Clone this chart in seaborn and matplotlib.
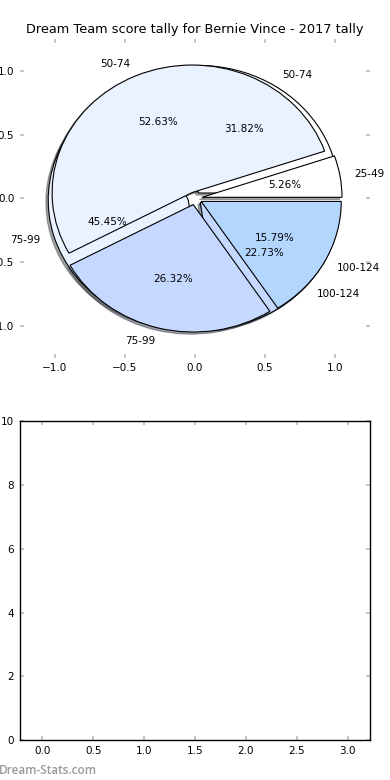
import matplotlib
matplotlib.use('Agg')
import matplotlib.pyplot as plt
import seaborn as sns

# 2017 score tallies (games per score bin)
bins_a = ['25-49', '50-74', '75-99', '100-124']
games_a = [1, 10, 5, 3]
bins_b = ['50-74', '75-99', '100-124']
games_b = [7, 10, 5]

wedge_colors = ['#ffffff', '#eaf1ff', '#c5d8ff', '#b3d6ff']
pie_ticks = [-1.0, -0.5, 0.0, 0.5, 1.0]

sns.set_style('white')
plt.rcParams['font.family'] = ['DejaVu Sans']
plt.rcParams['font.size'] = 7.5
plt.rcParams['text.color'] = 'black'
plt.rcParams['axes.labelcolor'] = 'black'

fig, (ax_pie, ax_empty) = plt.subplots(2, 1, figsize=(3.9, 7.8), dpi=100)
fig.subplots_adjust(left=0.051, right=0.949, top=0.95, bottom=0.051, hspace=0.2)

shadow = {'ox': -0.012, 'oy': -0.012, 'label': '_nolegend_'}
ax_pie.pie(games_b, labels=bins_b, colors=wedge_colors[:len(games_b)],
           explode=[0.05] * len(games_b), autopct='%1.2f%%', shadow=shadow,
           frame=True, wedgeprops={'edgecolor': 'black', 'linewidth': 0.8},
           textprops={'fontsize': 7.5, 'color': 'black'})
ax_pie.pie(games_a, labels=bins_a, colors=wedge_colors[:len(games_a)],
           explode=[0.05] * len(games_a), autopct='%1.2f%%', shadow=shadow,
           frame=True, wedgeprops={'edgecolor': 'black', 'linewidth': 0.8},
           textprops={'fontsize': 7.5, 'color': 'black'})
ax_pie.set_aspect('auto')
ax_pie.set_xlim(-1.25, 1.25)
ax_pie.set_ylim(-1.25, 1.25)
ax_pie.set_xticks(pie_ticks)
ax_pie.set_yticks(pie_ticks)
ax_pie.set_title('Dream Team score tally for Bernie Vince - 2017 tally',
                 fontsize=9.3, pad=4, color='black')
sns.despine(ax=ax_pie, left=True, bottom=True)

ax_empty.set_xlim(-0.22, 3.22)
ax_empty.set_ylim(0, 10)
ax_empty.set_xticks([0.0, 0.5, 1.0, 1.5, 2.0, 2.5, 3.0])
ax_empty.set_yticks([0, 2, 4, 6, 8, 10])
for side in ax_empty.spines.values():
    side.set_color('black')
    side.set_linewidth(1.0)

for ax in (ax_pie, ax_empty):
    ax.tick_params(direction='in', length=3, width=1.2, color='#bbbbbb',
                   left=True, bottom=True, top=True, right=True,
                   labelleft=True, labelbottom=True, labeltop=False, labelright=False,
                   labelsize=7.5, pad=4, labelcolor='black')

fig.text(-0.003, 0.008, 'Dream-Stats.com', color='#999999', fontsize=8.5,
         fontweight='semibold', family='Open Sans')

fig.savefig('out.png', dpi=100)
